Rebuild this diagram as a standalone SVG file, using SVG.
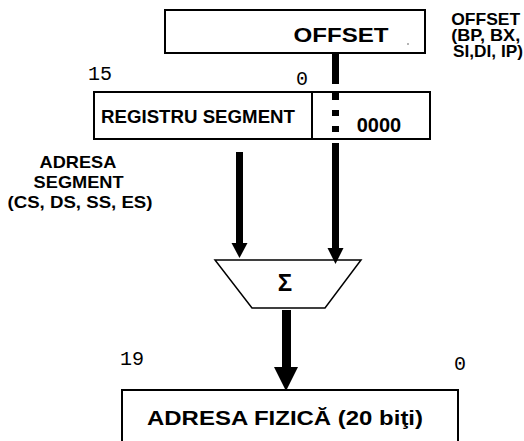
<svg xmlns="http://www.w3.org/2000/svg" width="524" height="441" viewBox="0 0 524 441">
<style>
.box{fill:#fff;stroke:#000;stroke-width:2}
.b{font-family:"Liberation Sans",Arial,sans-serif;font-weight:bold;fill:#000}
.m{font-family:"Liberation Mono","Courier New",monospace;font-size:20px;fill:#000}
.ln{fill:none;stroke:#000;stroke-width:2}
.thick{fill:#000}
</style>
<rect width="524" height="441" fill="#fff"/>

<g id="offset">
  <rect class="box" x="165" y="10" width="260" height="43"/>
  <text class="b" x="341" y="42" font-size="21" text-anchor="middle" textLength="95" lengthAdjust="spacingAndGlyphs">OFFSET</text>
  <circle cx="408" cy="44" r="0.8" fill="#555"/>
</g>

<g id="offset-label">
  <text class="b" font-size="16.5" text-anchor="middle">
    <tspan x="488" y="25" textLength="69" lengthAdjust="spacingAndGlyphs">OFFSET</tspan>
    <tspan x="488" y="41" textLength="69" lengthAdjust="spacingAndGlyphs">(BP, BX,</tspan>
    <tspan x="488" y="57" textLength="70" lengthAdjust="spacingAndGlyphs">SI,DI, IP)</tspan>
  </text>
</g>

<g id="register">
  <rect class="box" x="94" y="92" width="336" height="47"/>
  <line class="ln" x1="312" y1="92" x2="312" y2="139"/>
  <text class="b" x="101" y="123" font-size="18.5" textLength="194" lengthAdjust="spacingAndGlyphs">REGISTRU SEGMENT</text>
  <text class="b" x="379" y="132" font-size="20" text-anchor="middle">0000</text>
  <text class="m" x="88" y="80">15</text>
  <text class="m" x="296" y="85">0</text>
</g>

<g id="segment-label">
  <text class="b" font-size="17" text-anchor="middle">
    <tspan x="80" y="168" textLength="76" lengthAdjust="spacingAndGlyphs">ADRESA</tspan>
    <tspan x="81" y="188" textLength="90" lengthAdjust="spacingAndGlyphs">SEGMENT</tspan>
    <tspan x="80" y="208" textLength="145" lengthAdjust="spacingAndGlyphs">(CS, DS, SS, ES)</tspan>
  </text>
</g>

<g id="adder">
  <polygon class="box" points="215,260 361,260 325,308 252,308" style="stroke-width:1.5"/>
  <text class="b" x="285" y="291" font-size="24" text-anchor="middle">Σ</text>
</g>

<g id="physical">
  <rect class="box" x="122" y="390" width="336" height="60"/>
  <text class="b" x="285" y="425" font-size="21" text-anchor="middle" textLength="276" lengthAdjust="spacingAndGlyphs">ADRESA FIZICĂ (20 biţi)</text>
  <text class="m" x="120" y="365">19</text>
  <text class="m" x="454" y="370">0</text>
</g>

<g id="connectors">
  <rect class="thick" x="332" y="53" width="7" height="31"/>
  <rect class="thick" x="332" y="93" width="7" height="7"/>
  <rect class="thick" x="332" y="110" width="7" height="6"/>
  <rect class="thick" x="332" y="126" width="7" height="6"/>
  <rect class="thick" x="332" y="143" width="7" height="107"/>
  <polygon class="thick" points="327.5,248 343.5,248 335.5,264"/>
  <rect class="thick" x="236" y="152" width="7" height="93"/>
  <polygon class="thick" points="231.5,243 247.5,243 239.5,258"/>
  <rect class="thick" x="282" y="310" width="9" height="59"/>
  <polygon class="thick" points="274,367 298,367 286,391"/>
</g>
</svg>
